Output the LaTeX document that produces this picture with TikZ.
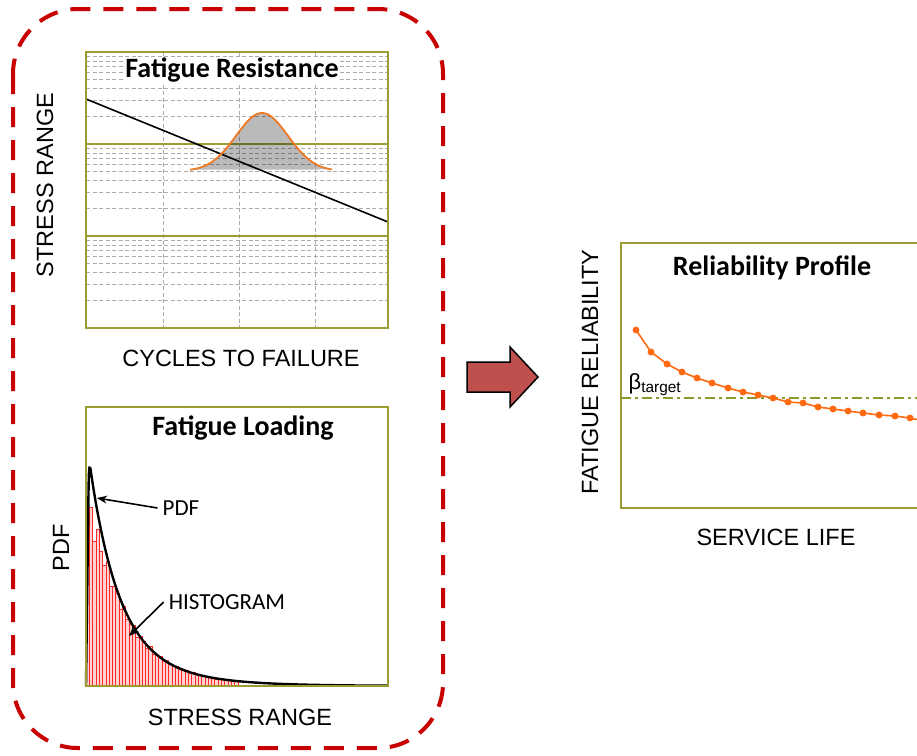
\documentclass[tikz,border=0pt]{standalone}
\usepackage{fontspec}
\setmainfont{Liberation Sans}
\newfontfamily\titlefont{Carlito}
\usetikzlibrary{arrows.meta,positioning,calc}
\definecolor{framecol}{HTML}{9C9C32}
\definecolor{betacol}{HTML}{8A9A2B}
\definecolor{boxcol}{HTML}{C80000}
\definecolor{arrowcol}{HTML}{C0504D}
\definecolor{curvecol}{HTML}{FF6A10}
\definecolor{bellcol}{HTML}{F07820}
\tikzset{
  plotframe/.style={draw=framecol,line width=2pt},
  gridline/.style={gray!65,dash pattern=on 4pt off 2.5pt,line width=0.8pt},
  decade/.style={framecol,line width=1.2pt},
  charttitle/.style={font=\titlefont\bfseries\fontsize{28}{32}\selectfont,fill=white,inner sep=1pt},
  axislabel/.style={font=\fontsize{23.5}{27}\selectfont},
  callout/.style={font=\titlefont\fontsize{23}{27}\selectfont,inner sep=5pt},
  histbar/.style={draw=red!85,fill=red!18,line width=0.6pt},
}
\begin{document}
\begin{tikzpicture}[x=1pt,y=-1pt,>={Stealth[length=10pt,width=8pt]},
  declare function={decay(\t)=0.8*exp(-\t/28)+0.2*exp(-\t/60);
                    rise(\t)=1-exp(-(min(\t,10)*min(\t,10))/3.24);
                    loadpdf(\t)=250*rise(\t)*decay(\t);}]
  \useasboundingbox (0,0) rectangle (917,755);
  % dashed group around the two input charts
  \draw[boxcol,line width=4pt,dash pattern=on 20pt off 13pt,rounded corners=65pt] (13,9) rectangle (443,748);

  % S-N chart: log grid, three decades
  \foreach \b in {144,236,328} {
    \foreach \k in {2,...,9} {
      \pgfmathsetmacro{\yk}{\b-92*log10(\k)}
      \draw[gridline] (86,\yk) -- (388,\yk);
    }
  }
  \foreach \x in {163,239,315} \draw[gridline] (\x,52) -- (\x,328);
  \draw[decade] (86,144) -- (388,144) (86,236) -- (388,236);
  \fill[black,fill opacity=0.27] plot[domain=190:332,samples=60,smooth] (\x,{171-58*exp(-((\x-262)*(\x-262))/1352)}) -- cycle;
  \draw[black,line width=1.6pt] (86,99) -- (388,222);
  \draw[bellcol,line width=1.8pt] plot[domain=190:332,samples=60,smooth] (\x,{171-58*exp(-((\x-262)*(\x-262))/1352)});
  \draw[plotframe] (86,52) rectangle (388,328);
  \node[charttitle] (restitle) at (232,70) {Fatigue Resistance};
  \node[axislabel,rotate=90] (resy) at (45,185) {STRESS RANGE};
  \node[axislabel] (resx) at (241,358) {CYCLES TO FAILURE};

  % loading chart: histogram of stress ranges and fitted pdf
  \foreach \i in {0,...,45} {
    \pgfmathsetmacro{\xa}{86+3.3*\i}
    \pgfmathsetmacro{\hb}{250*decay(3.3*\i+1.65)*(1-0.25*exp(-\i/6)+0.07*sin(\i*137))}
    \filldraw[histbar] (\xa,686) rectangle ++(3.3,-\hb);
  }
  \draw[black,line width=2.4pt] plot[domain=86:388,samples=220,smooth] (\x,{686-loadpdf(\x-86)});
  \draw[plotframe] (86,407) rectangle (388,686);
  \node[charttitle] (loadtitle) at (243,428) {Fatigue Loading};
  \node[callout] (pdflbl) at (181,508) {PDF};
  \node[callout] (histlbl) at (227,602) {HISTOGRAM};
  \coordinate (pdftip) at (97,498);
  \coordinate (histtip) at (129,636);
  \draw[->,line width=1.6pt] (pdflbl.west) -- (pdftip);
  \draw[->,line width=1.6pt] (histlbl.west) -- (histtip);
  \node[axislabel,rotate=90] (loady) at (61,548) {PDF};
  \node[axislabel] (loadx) at (240,717) {STRESS RANGE};

  % block arrow between inputs and result
  \fill[arrowcol,draw=black,line width=1.5pt] (467,362) -- (510,362) -- (510,347) -- (538,377) -- (510,407) -- (510,392) -- (467,392) -- cycle;

  % reliability profile over the service life
  \draw[plotframe] (917,243) -- (621,243) -- (621,508) -- (917,508);
  \draw[betacol,line width=1.8pt,dash pattern=on 10pt off 4pt on 3pt off 4pt] (621,398) -- (917,398);
  \node[font=\fontsize{22}{26}\selectfont] (betalbl) at (655,385) {β\textsubscript{target}};
  \draw[curvecol,line width=1.6pt] (910,418) -- (917,419.5);
  \draw[curvecol,line width=1.6pt,mark=*,mark size=2.6pt,mark options={fill=curvecol}] plot coordinates {
    (636,330) (651,352) (667,364) (682,372) (697,378) (712,383) (728,388) (743,392) (758,395) (773,398)
    (788,402) (803,403) (818,407) (833,409) (848,411) (863,413) (879,415) (895,416) (910,418)};
  \node[charttitle] (reltitle) at (772,268) {Reliability Profile};
  \node[axislabel,rotate=90] (rely) at (590,372) {FATIGUE RELIABILITY};
  \node[axislabel] (relx) at (776,537) {SERVICE LIFE};
\end{tikzpicture}
\end{document}
